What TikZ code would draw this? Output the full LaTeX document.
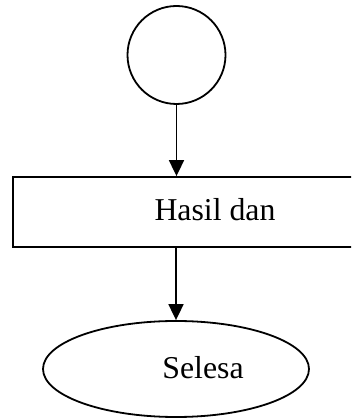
\documentclass[tikz,border=0pt]{standalone}
\usepackage{fontspec}
\setmainfont{Liberation Serif}
\usetikzlibrary{arrows.meta,shapes.geometric}

\begin{document}
\begin{tikzpicture}[x=1pt,y=1pt]
		\tikzstyle{startnode}=[circle,draw,line width=1.8pt,minimum size=98pt,inner sep=0pt]
		\tikzstyle{procbox}=[draw,line width=1.8pt,minimum width=404pt,minimum height=70pt,inner sep=0pt]
		\tikzstyle{endnode}=[ellipse,draw,line width=1.8pt,minimum width=266pt,minimum height=96pt,inner sep=0pt]
		\tikzstyle{flowtext}=[inner sep=0pt,font=\fontsize{31.8}{38}\selectfont]
		\tikzstyle{flow} = [draw,line width=1.8pt,-{Triangle[length=16pt,width=15pt]}]
		
		\useasboundingbox (0,0) rectangle (351,420);
		\clip (0,0) rectangle (351,420);
		
		\node[startnode] (start) at (176.5,365) {};
		\node[procbox] (hasil) at (215,208) {};
		\node[flowtext] (hasiltext) at (215,210) {Hasil dan};
		\node[endnode] (selesai) at (176,51) {};
		\node[flowtext] (selesaitext) at (203,52) {Selesa};
		
		\draw[flow] (start) -- (hasil.north -| start);
		\draw[flow] (hasil.south -| selesai) -- (selesai);
		\end{tikzpicture}
\end{document}
